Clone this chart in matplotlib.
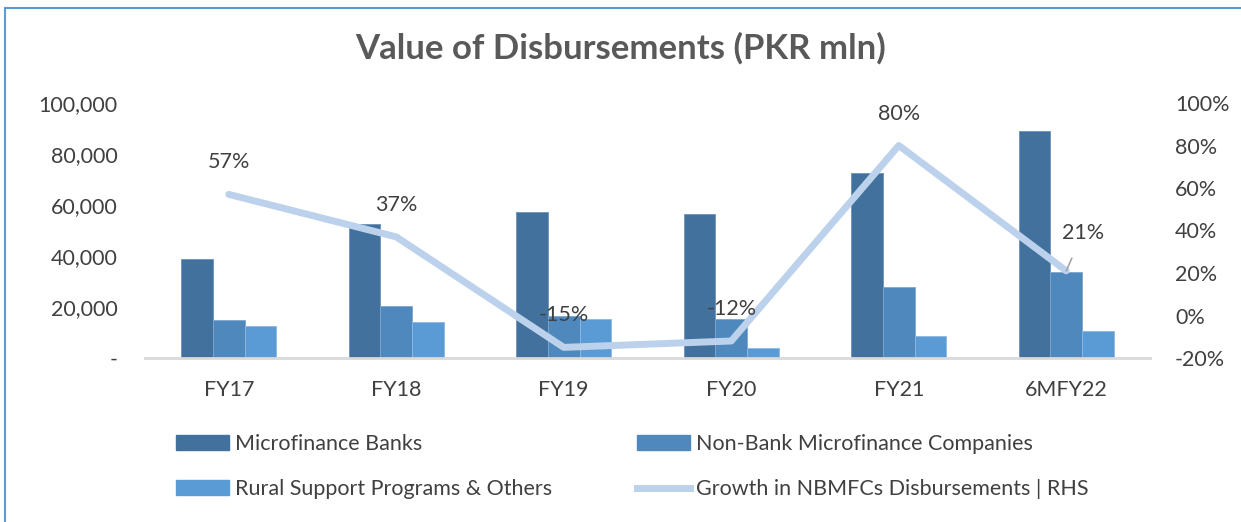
import numpy as np
import matplotlib
matplotlib.use('Agg')
import matplotlib.pyplot as plt
from matplotlib.patches import Patch, Rectangle
from matplotlib.lines import Line2D

# data
categories = ['FY17', 'FY18', 'FY19', 'FY20', 'FY21', '6MFY22']
mfb = [38800, 52500, 57300, 56500, 72500, 89000]
nbmfc = [14800, 20500, 16500, 15400, 27800, 33900]
rsp = [12700, 14100, 15200, 3800, 8500, 10500]
growth = [57, 37, -15, -12, 80, 21]
growth_labels = ['57%', '37%', '-15%', '-12%', '80%', '21%']
left_ticks = [0, 20000, 40000, 60000, 80000, 100000]
left_ticklabels = ['-', '20,000', '40,000', '60,000', '80,000', '100,000']
right_ticks = [-20, 0, 20, 40, 60, 80, 100]

c_mfb = '#41719C'
c_nbmfc = '#4E88BC'
c_rsp = '#5B9BD5'
c_line = '#BCD2EC'
c_text = '#404040'
fs = 15.5

plt.rcParams['font.family'] = ['Lato', 'DejaVu Sans']

fig = plt.figure(figsize=(12.41, 5.22), dpi=100)
fig.patches.append(Rectangle((5 / 1241, -0.01), 1.02, 1 - 8 / 522 + 0.01,
                             transform=fig.transFigure, fill=False,
                             edgecolor='#5B9BD5', lw=1.5))

ax = fig.add_axes([145 / 1241, 1 - 358 / 522, 1005 / 1241, 255 / 522])
x = np.arange(len(categories))
w = 0.19
ax.bar(x - w, mfb, w, color=c_mfb, edgecolor='#6C93BA', lw=0.6)
ax.bar(x, nbmfc, w, color=c_nbmfc, edgecolor='#7EA6CE', lw=0.6)
ax.bar(x + w, rsp, w, color=c_rsp, edgecolor='#8DB8E2', lw=0.6)
ax.set_xlim(-0.5, len(categories) - 0.5)
ax.set_ylim(0, 100000)
ax.set_yticks(left_ticks)
ax.set_yticklabels(left_ticklabels)
ax.set_xticks(x)
ax.set_xticklabels(categories)
for s in ['top', 'right', 'left']:
    ax.spines[s].set_visible(False)
ax.spines['bottom'].set_color('#D9D9D9')
ax.spines['bottom'].set_linewidth(2)
ax.tick_params(axis='both', length=0, labelsize=fs, colors=c_text)
ax.tick_params(axis='x', pad=16)
ax.tick_params(axis='y', pad=19.5)

ax2 = ax.twinx()
ax2.plot(x, growth, color=c_line, lw=5, solid_capstyle='round')
ax2.set_ylim(-20, 100)
ax2.set_yticks(right_ticks)
ax2.set_yticklabels([f'{t}%' for t in right_ticks])
for s in ax2.spines.values():
    s.set_visible(False)
ax2.tick_params(axis='y', length=0, labelsize=fs, colors=c_text, pad=18)

for i, (g, lab) in enumerate(zip(growth, growth_labels)):
    if i == len(growth) - 1:
        ax2.annotate(lab, xy=(i, g), xytext=(i + 0.1, g + 18),
                     ha='center', va='center', fontsize=fs, color=c_text,
                     arrowprops=dict(arrowstyle='-', color='#A6A6A6', lw=1.2,
                                     shrinkA=10, shrinkB=0))
    else:
        ax2.annotate(lab, xy=(i, g), xytext=(0, 23), textcoords='offset points',
                     ha='center', va='center', fontsize=fs, color=c_text)

fig.text(0.5, 1 - 48 / 522, 'Value of Disbursements (PKR mln)', ha='center',
         va='center', fontsize=25, fontweight='bold', color='#595959')

h1 = [Patch(color=c_mfb, label='Microfinance Banks'),
      Patch(color=c_rsp, label='Rural Support Programs & Others')]
h2 = [Patch(color=c_nbmfc, label='Non-Bank Microfinance Companies'),
      Line2D([], [], color=c_line, lw=5, label='Growth in NBMFCs Disbursements | RHS')]
for hs, x0 in [(h1, 167 / 1241), (h2, 628 / 1241)]:
    leg = fig.legend(handles=hs, loc='upper left', bbox_to_anchor=(x0, 1 - 425 / 522),
                     frameon=False, fontsize=fs, handlelength=2.5,
                     handleheight=0.7, handletextpad=0.25, labelspacing=1.2,
                     borderaxespad=0)
    for t in leg.get_texts():
        t.set_color(c_text)

fig.savefig('out.png', dpi=100)
